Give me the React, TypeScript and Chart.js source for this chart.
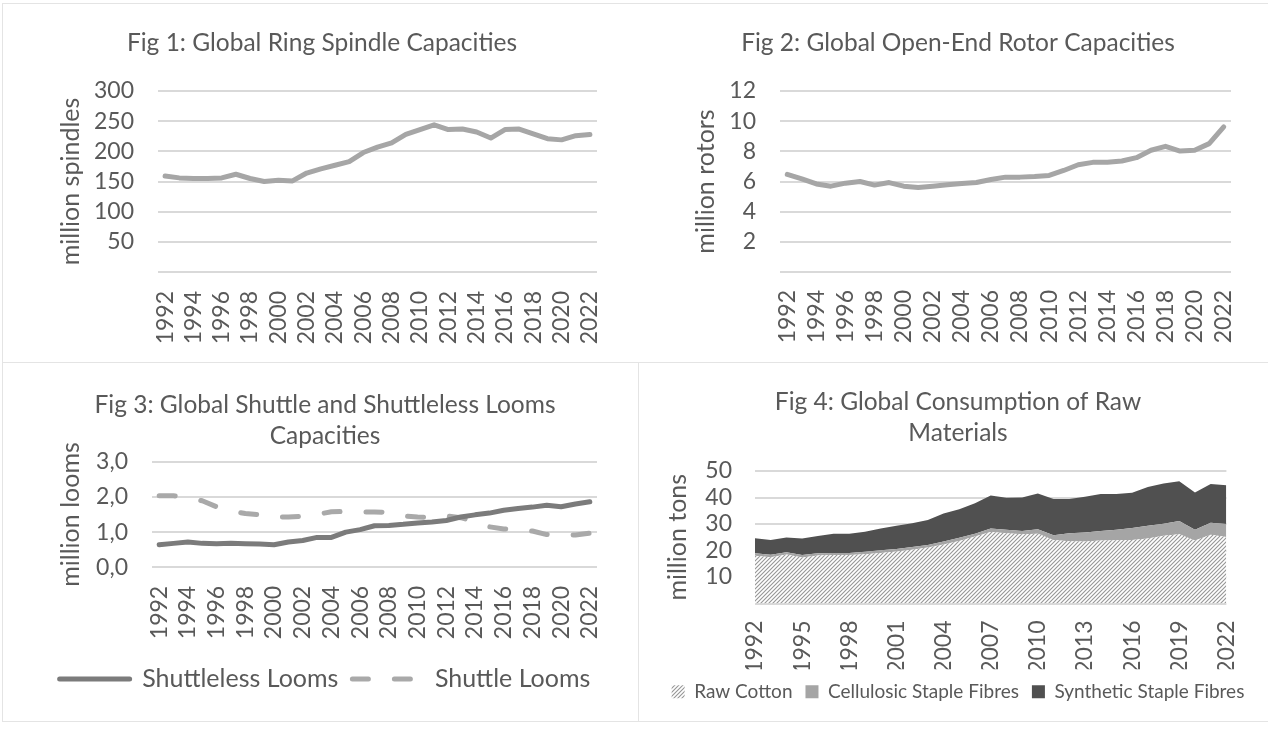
import React, { useEffect, useRef } from 'react';
import { Chart, registerables } from 'chart.js';

Chart.register(...registerables);

// ---------- data ----------
const YEARS = ['1992','1993','1994','1995','1996','1997','1998','1999','2000','2001','2002','2003','2004','2005','2006','2007','2008','2009','2010','2011','2012','2013','2014','2015','2016','2017','2018','2019','2020','2021','2022'];

const RING_SPINDLES = [159,156,155,155,156,162,155,150,152,151,164,171,177,183,198,207,214,228,236,244,236,237,232,222,236,237,229,221,219,226,228];

const ROTORS = [6.47,6.18,5.84,5.69,5.89,6.0,5.76,5.93,5.69,5.6,5.69,5.78,5.87,5.93,6.13,6.29,6.29,6.33,6.4,6.73,7.11,7.27,7.27,7.36,7.58,8.07,8.33,8.02,8.07,8.51,9.62];

const SHUTTLELESS = [0.64,0.68,0.72,0.68,0.67,0.68,0.67,0.66,0.64,0.72,0.76,0.85,0.85,1.0,1.07,1.18,1.19,1.22,1.26,1.29,1.33,1.43,1.49,1.54,1.62,1.67,1.71,1.76,1.72,1.8,1.86];
const SHUTTLE = [2.03,2.03,1.98,1.89,1.72,1.6,1.53,1.49,1.42,1.43,1.45,1.5,1.58,1.59,1.57,1.57,1.56,1.46,1.43,1.41,1.46,1.41,1.3,1.15,1.09,1.07,1.03,0.93,0.9,0.92,0.97];

const RAW_COTTON = [18.0,17.5,18.5,17.4,18.1,18.3,18.3,18.6,19.1,19.6,20.3,21.1,22.3,23.6,25.3,27.0,26.5,26.1,26.3,24.0,23.5,23.4,23.8,23.9,24.0,24.5,25.6,26.1,23.8,25.9,25.1];
const CELLULOSIC = [1.0,0.9,0.8,0.9,0.9,0.8,0.8,0.9,1.0,1.0,1.0,1.0,1.1,1.2,1.0,1.3,1.3,1.3,1.7,1.8,3.0,3.4,3.6,3.9,4.5,4.8,4.5,5.0,4.0,4.6,4.9];
const SYNTHETIC = [5.6,5.6,5.6,6.2,6.5,7.2,7.2,7.6,8.2,8.7,9.0,9.4,10.6,10.8,11.5,12.5,12.1,12.6,13.5,13.6,12.9,13.5,13.9,13.5,13.3,14.7,15.2,15.0,14.1,14.6,14.6];

const TITLE_1 = 'Fig 1: Global Ring Spindle Capacities';
const TITLE_2 = 'Fig 2: Global Open-End Rotor Capacities';
const TITLE_3 = ['Fig 3: Global Shuttle and Shuttleless Looms', 'Capacities'];
const TITLE_4 = ['Fig 4: Global Consumption of Raw', 'Materials'];

// ---------- style ----------
const FONT = 'Lato';
const TEXT = '#595959';
const GRID = '#d9d9d9';
const TITLE_SIZE = 24.5;
const AXIS_TITLE_SIZE = 25;
const TICK_SIZE = 23;

Chart.defaults.font.family = FONT;
Chart.defaults.color = TEXT;

type Cfg = {
  L: number; R: number; padB: number;
  title: string | string[]; tTop: number; tBottom: number;
  yTitle: string; yTitlePad: number; yW: number; yPad: number;
  max: number; step: number; fmt: (v: number) => string; stacked?: boolean;
  xH: number; xPad: number; every: number; offset: boolean;
  legend?: any; rightGap?: number;
};

function makeOptions(c: Cfg): any {
  const scales: any = {
    x: {
      offset: c.offset,
      grid: { display: false, drawTicks: false },
      border: { display: false },
      ticks: {
        autoSkip: false,
        minRotation: 90,
        maxRotation: 90,
        padding: c.xPad,
        color: TEXT,
        font: { family: FONT, size: TICK_SIZE },
        callback: (_v: any, i: number) => (i % c.every === 0 ? YEARS[i] : ''),
      },
      afterFit: (s: any) => { s.height = c.xH; },
    },
    y: {
      min: 0,
      max: c.max,
      stacked: !!c.stacked,
      grid: { color: GRID, lineWidth: 2, drawTicks: false },
      border: { display: false },
      ticks: {
        autoSkip: false,
        stepSize: c.step,
        padding: c.yPad,
        color: TEXT,
        font: { family: FONT, size: TICK_SIZE, lineHeight: 1 },
        callback: (v: any) => c.fmt(Number(v)),
      },
      title: {
        display: true,
        text: c.yTitle,
        color: TEXT,
        font: { family: FONT, size: AXIS_TITLE_SIZE, lineHeight: 1.2 },
        padding: { top: c.yTitlePad, bottom: 0 },
      },
      afterFit: (s: any) => { s.width = c.yW; },
    },
  };
  if (c.rightGap) {
    // empty spacer on the right so the legend can use the full panel width
    scales.gap = {
      type: 'linear',
      position: 'right',
      display: true,
      grid: { display: false, drawTicks: false },
      border: { display: false },
      ticks: { display: false },
      afterFit: (s: any) => { s.width = c.rightGap; },
    };
  }
  return {
    responsive: false,
    animation: false,
    events: [],
    layout: { padding: { left: c.L, right: c.R, top: 0, bottom: c.padB } },
    plugins: {
      title: {
        display: true,
        text: c.title,
        color: TEXT,
        font: { family: FONT, size: TITLE_SIZE, weight: 'normal', lineHeight: 31 / TITLE_SIZE },
        padding: { top: c.tTop, bottom: c.tBottom },
      },
      legend: c.legend ?? { display: false },
      tooltip: { enabled: false },
    },
    scales,
  };
}

const noZero = (v: number) => (v === 0 ? '' : String(v));
const comma = (v: number) => v.toFixed(1).replace('.', ',');

function lineDs(label: string, data: number[], color: string, extra: any = {}) {
  return {
    label,
    data,
    borderColor: color,
    backgroundColor: color,
    borderWidth: 5,
    pointRadius: 0,
    tension: 0,
    borderCapStyle: 'round',
    borderJoinStyle: 'round',
    fill: false,
    ...extra,
  };
}

function hatch(canvas: HTMLCanvasElement) {
  const pc = document.createElement('canvas');
  pc.width = 4;
  pc.height = 4;
  const g = pc.getContext('2d')!;
  g.fillStyle = '#ffffff';
  g.fillRect(0, 0, 4, 4);
  g.strokeStyle = '#969696';
  g.lineWidth = 1.1;
  g.beginPath();
  g.moveTo(0, 4); g.lineTo(4, 0);
  g.moveTo(-1, 1); g.lineTo(1, -1);
  g.moveTo(3, 5); g.lineTo(5, 3);
  g.stroke();
  return canvas.getContext('2d')!.createPattern(pc, 'repeat')!;
}

const build1 = () => ({
  type: 'line',
  data: { labels: YEARS, datasets: [lineDs('Ring spindles', RING_SPINDLES, '#a6a6a6')] },
  options: makeOptions({
    L: 47, R: 41, padB: 0,
    title: TITLE_1, tTop: 27.2, tBottom: 32.8,
    yTitle: 'million spindles', yTitlePad: 9.4, yW: 111, yPad: 24,
    max: 300, step: 50, fmt: noZero,
    xH: 90, xPad: 19, every: 2, offset: true,
  }),
});

const build2 = () => ({
  type: 'line',
  data: { labels: YEARS, datasets: [lineDs('Open-end rotors', ROTORS, '#a6a6a6')] },
  options: makeOptions({
    L: 47, R: 40, padB: 0,
    title: TITLE_2, tTop: 27.2, tBottom: 32.8,
    yTitle: 'million rotors', yTitlePad: 5.5, yW: 95, yPad: 24,
    max: 12, step: 2, fmt: noZero,
    xH: 90, xPad: 18, every: 2, offset: true,
  }),
});

const build3 = () => ({
  type: 'line',
  data: {
    labels: YEARS,
    datasets: [
      lineDs('Shuttleless Looms', SHUTTLELESS, '#7b7b7b'),
      lineDs('Shuttle Looms', SHUTTLE, '#a9a9a9', { borderDash: [16, 26] }),
    ],
  },
  options: makeOptions({
    L: 20, R: 8, padB: 20.5, rightGap: 33,
    title: TITLE_3, tTop: 27.5, tBottom: 10.2,
    yTitle: 'million looms', yTitlePad: 36.4, yW: 132, yPad: 24,
    max: 3, step: 1, fmt: comma,
    xH: 85.2, xPad: 18.5, every: 2, offset: true,
    legend: {
      display: true,
      position: 'bottom',
      labels: {
        usePointStyle: true,
        pointStyle: 'line',
        pointStyleWidth: 70,
        padding: 14,
        color: TEXT,
        font: { family: FONT, size: 25 },
        generateLabels: (chart: any) =>
          Chart.defaults.plugins.legend.labels.generateLabels(chart).map((item: any) => {
            const ds = chart.data.datasets[item.datasetIndex];
            return { ...item, lineDash: ds.borderDash || [], lineCap: 'round', lineWidth: 5, strokeStyle: ds.borderColor };
          }),
      },
    },
  }),
});

const build4 = (canvas: HTMLCanvasElement) => {
  const pattern = hatch(canvas);
  const area = (label: string, data: number[], bg: any, fill: any) => ({
    label,
    data,
    backgroundColor: bg,
    borderColor: 'rgba(0,0,0,0)',
    borderWidth: 0,
    pointRadius: 0,
    tension: 0,
    fill,
  });
  return {
    type: 'line',
    data: {
      labels: YEARS,
      datasets: [
        area('Raw Cotton', RAW_COTTON, pattern, 'origin'),
        area('Cellulosic Staple Fibres', CELLULOSIC, '#a5a5a5', '-1'),
        area('Synthetic Staple Fibres', SYNTHETIC, '#505050', '-1'),
      ],
    },
    options: makeOptions({
      L: 20, R: 13, padB: 10.8, rightGap: 26,
      title: TITLE_4, tTop: 24.2, tBottom: 22.8,
      yTitle: 'million tons', yTitlePad: 5, yW: 97, yPad: 23,
      max: 50, step: 10, fmt: noZero, stacked: true,
      xH: 65.7, xPad: 17, every: 3, offset: false,
      legend: {
        display: true,
        position: 'bottom',
        labels: {
          boxWidth: 13,
          boxHeight: 13,
          padding: 13,
          color: TEXT,
          font: { family: FONT, size: 19 },
        },
      },
    }),
  };
};

function Panel(props: { left: number; top: number; width: number; height: number; build: (c: HTMLCanvasElement) => any }) {
  const ref = useRef<HTMLCanvasElement>(null);
  useEffect(() => {
    const canvas = ref.current!;
    const chart = new Chart(canvas, props.build(canvas));
    return () => chart.destroy();
  }, []);
  return (
    <canvas
      ref={ref}
      width={props.width}
      height={props.height}
      style={{ position: 'absolute', left: props.left, top: props.top, width: props.width, height: props.height }}
    />
  );
}

const line = (left: number, top: number, width: number, height: number) => (
  <div style={{ position: 'absolute', left, top, width, height, background: '#e4e4e4' }} />
);

export default function App() {
  return (
    <div style={{ position: 'fixed', left: 0, top: 0, width: 1271, height: 735, background: '#ffffff', overflow: 'hidden' }}>
      {line(3, 3, 1265, 1)}
      {line(3, 362, 1265, 1)}
      {line(3, 721, 1265, 1)}
      {line(2, 3, 1, 719)}
      {line(638, 362, 1, 360)}
      <Panel left={0} top={0} width={638} height={362} build={build1} />
      <Panel left={638} top={0} width={633} height={362} build={build2} />
      <Panel left={0} top={362} width={638} height={360} build={build3} />
      <Panel left={638} top={362} width={633} height={360} build={build4} />
    </div>
  );
}
